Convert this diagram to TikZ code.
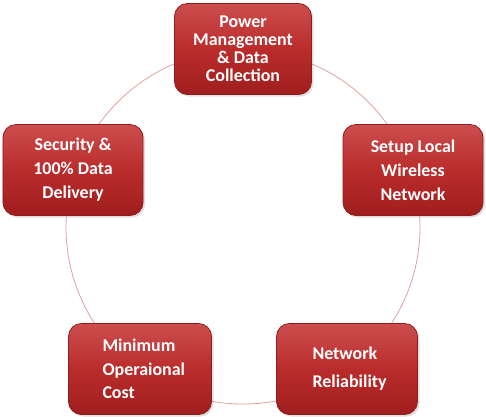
\documentclass[tikz,border=0pt]{standalone}
\usepackage{fontspec}
\setmainfont{Carlito}
\usetikzlibrary{shadows}
\definecolor{boxtop}{RGB}{204,78,78}
\definecolor{boxmid}{RGB}{186,44,44}
\definecolor{boxbot}{RGB}{160,30,30}
\definecolor{boxedge}{RGB}{145,28,28}
\definecolor{ringcol}{RGB}{226,160,160}
\tikzset{
  redbox/.style={draw=boxedge, line width=0.8bp, rounded corners=13bp,
    top color=boxtop, bottom color=boxbot, middle color=boxmid,
    minimum width=140bp, minimum height=91bp, inner sep=0pt,
    text=white,
    drop shadow={shadow xshift=2bp, shadow yshift=-2bp, opacity=0.25}},
  ring/.style={draw=ringcol, line width=0.8bp}
}
\begin{document}
\begin{tikzpicture}[x=1bp,y=-1bp]
\useasboundingbox (0,0) rectangle (486,416);
\draw[ring] (243,227) circle[radius=177bp];
\node[redbox, minimum width=137bp, align=center, font=\bfseries\fontsize{18}{18}\selectfont] (pm) at (243,49) {Power\\Management\\\& Data\\Collection};
\node[redbox, align=center, font=\bfseries\fontsize{18}{24}\selectfont] (sec) at (73,170) {Security \&\\100\% Data\\Delivery};
\node[redbox, align=center, font=\bfseries\fontsize{18}{24}\selectfont] (setup) at (413,170) {Setup Local\\Wireless\\Network};
\node[redbox, minimum width=143bp, align=left, font=\bfseries\fontsize{18}{23.5}\selectfont, text width=143bp] (cost) at (140,369) {\hspace*{34bp}Minimum\\\hspace*{34bp}Operaional\\\hspace*{34bp}Cost};
\node[redbox, minimum width=141bp, align=left, font=\bfseries\fontsize{18}{28}\selectfont, text width=141bp] (rel) at (347,369) {\hspace*{36bp}Network\\\hspace*{36bp}Reliability};
\end{tikzpicture}
\end{document}
